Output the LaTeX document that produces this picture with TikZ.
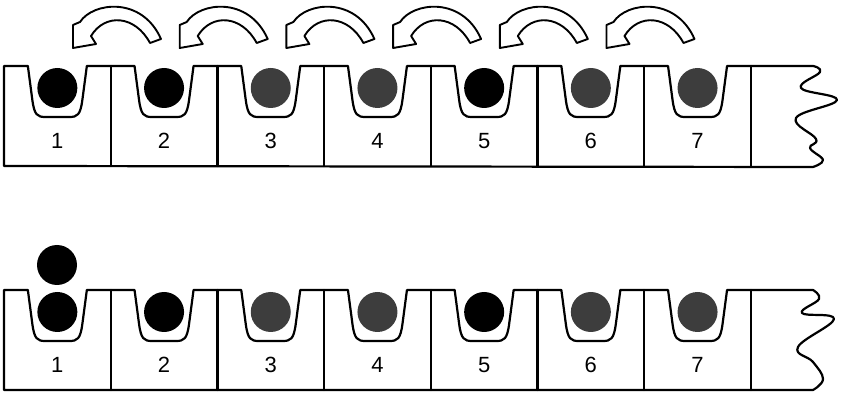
\documentclass[tikz,border=0pt]{standalone}
\usepackage{fontspec}
\setmainfont{Liberation Sans}
\begin{document}
\begin{tikzpicture}[x=1pt,y=-1pt,line join=round,line cap=round,
  outline/.style={draw,line width=2.2pt},
  divider/.style={draw,line width=2.2pt},
  ball/.style={circle,inner sep=0pt,minimum size=40pt,fill=#1},
  num/.style={font=\fontsize{22}{22}\selectfont,inner sep=0pt},
  flow/.style={draw,line width=1.9pt,fill=white}]
\useasboundingbox (0,0) rectangle (844,395);
\def\cw{106.7}
\colorlet{stipple}{black!76}
% curved arrows
\foreach \i in {0,...,5}{
  \begin{scope}[xshift=\i*\cw pt]
    \draw[flow] (161,39) -- (150,43) .. controls (135,15) and (105,13) .. (91,36)
      -- (96,44) -- (73,48) -- (73,25) -- (80,22)
      .. controls (93,2) and (142,-4) .. (161,39) -- cycle;
  \end{scope}
}
% two strips
\foreach \r/\dy/\wave in {t/0/{(813,66) (820,72) (801,88) (837,100) (796,118) (816,139) (810,148) (823,160) (813,167)},
                          b/224/{(813,66) (819,75) (802,89) (834,95) (798,123) (813,138) (823,155) (813,166)}}{
  \begin{scope}[yshift=-\dy pt]
    \draw[outline] (4,166) -- (4,66)
      \foreach \i [evaluate=\i as \c using 57.35+106.7*\i] in {0,...,6}{
        -- ({\c-29.5},66) -- ({\c-25},100) .. controls ({\c-23},115) and ({\c-20},117) .. ({\c-12},117)
        -- ({\c+12},117) .. controls ({\c+20},117) and ({\c+23},115) .. ({\c+25},100) -- ({\c+29.5},66)
      }
      -- (813,66)
      -- plot[smooth,tension=0.7] coordinates {\wave}
      -- cycle;
    \foreach \i in {1,...,7}
      \draw[divider] ({4+\cw*\i},66) -- ({4+\cw*\i},166);
    \foreach \i/\col in {1/black,2/black,3/stipple,4/stipple,5/black,6/stipple,7/stipple}{
      \node[ball=\col] (ball-\r-\i) at ({4+\cw*(\i-0.5)},88) {};
      \node[num] (num-\r-\i) at ({4+\cw*(\i-0.5)},141) {\i};
    }
  \end{scope}
}
\node[ball=black] (extra) at (57,265) {};
\end{tikzpicture}
\end{document}
